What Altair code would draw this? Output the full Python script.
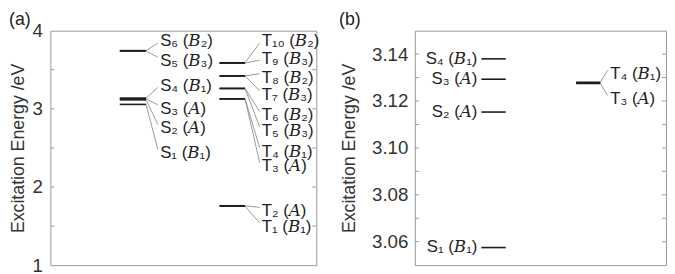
import altair as alt
import pandas as pd

# ---------------- data ----------------
# Panel (a)
a_S_names = ["S₁ (𝐵₁)", "S₂ (𝐴)", "S₃ (𝐴)", "S₄ (𝐵₁)", "S₅ (𝐵₃)", "S₆ (𝐵₂)"]
a_S_E = [3.057, 3.115, 3.129, 3.138, 3.740, 3.745]
a_S_label_y = [2.433, 2.748, 3.0, 3.294, 3.609, 3.861]

a_T_names = ["T₁ (𝐵₁)", "T₂ (𝐴)", "T₃ (𝐴)", "T₄ (𝐵₁)", "T₅ (𝐵₃)",
             "T₆ (𝐵₂)", "T₇ (𝐵₃)", "T₈ (𝐵₂)", "T₉ (𝐵₃)", "T₁₀ (𝐵₂)"]
a_T_E = [1.755, 1.760, 3.127, 3.128, 3.260, 3.262, 3.420, 3.422, 3.585, 3.590]
a_T_label_y = [1.49, 1.69, 2.264, 2.453, 2.718, 2.916, 3.181, 3.399, 3.643, 3.861]

a_ticks = [1.5, 2.0, 2.5, 3.0, 3.5]
a_tick_labels = [1, 2, 3, 4]

# Panel (b)
b_S_names = ["S₁ (𝐵₁)", "S₂ (𝐴)", "S₃ (𝐴)", "S₄ (𝐵₁)"]
b_S_E = [3.0575, 3.1153, 3.1293, 3.1380]

b_T_names = ["T₃ (𝐴)", "T₄ (𝐵₁)"]
b_T_E = [3.1275, 3.1280]
b_T_label_y = [3.1209, 3.1316]

b_ticks = [3.06, 3.07, 3.08, 3.09, 3.10, 3.11, 3.12, 3.13, 3.14]
b_tick_labels = [3.06, 3.08, 3.10, 3.12, 3.14]

FONT = "Liberation Sans"
LFONT = "Liberation Sans, DejaVu Serif, DejaVu Sans"
LEVEL_COLOR = "#1c1c1c"
CONN_COLOR = "#808080"
TEXT_COLOR = "#222222"
LABEL_SIZE = 17


def levels_layer(E, x0, x1, xs, ys, yax):
    df = pd.DataFrame({"E": E, "x0": [x0] * len(E), "x1": [x1] * len(E)})
    return alt.Chart(df).mark_rule(color=LEVEL_COLOR, strokeWidth=1.6).encode(
        x=alt.X("x0:Q", scale=xs, axis=None),
        x2="x1:Q",
        y=alt.Y("E:Q", scale=ys, axis=yax),
    )


def conn_layer(E, ends, xa, xb, xs, ys, yax):
    df = pd.DataFrame({"E": E, "Y2": ends, "x0": [xa] * len(E), "x1": [xb] * len(E)})
    return alt.Chart(df).mark_rule(color=CONN_COLOR, strokeWidth=0.8).encode(
        x=alt.X("x0:Q", scale=xs, axis=None),
        x2="x1:Q",
        y=alt.Y("E:Q", scale=ys, axis=yax),
        y2="Y2:Q",
    )


def label_layer(names, ly, xpos, align, xs, ys, yax):
    df = pd.DataFrame({"t": names, "E": ly, "x0": [xpos] * len(names)})
    return alt.Chart(df).mark_text(
        align=align, baseline="middle", font=LFONT, fontSize=LABEL_SIZE, color=TEXT_COLOR
    ).encode(
        x=alt.X("x0:Q", scale=xs, axis=None),
        y=alt.Y("E:Q", scale=ys, axis=yax),
        text="t:N",
    )


def tick_layer(ticks, length, xs, ys, yax):
    rows = []
    for t in ticks:
        rows.append({"E": t, "x0": 0.0, "x1": length})
        rows.append({"E": t, "x0": 1.0 - length, "x1": 1.0})
    df = pd.DataFrame(rows)
    return alt.Chart(df).mark_rule(color="#999999", strokeWidth=1).encode(
        x=alt.X("x0:Q", scale=xs, axis=None),
        x2="x1:Q",
        y=alt.Y("E:Q", scale=ys, axis=yax),
    )


def tag_layer(text, xv, yv):
    df = pd.DataFrame({"t": [text]})
    return alt.Chart(df).mark_text(
        align="left", baseline="middle", font=FONT, fontSize=18, color=TEXT_COLOR
    ).encode(x=alt.value(xv), y=alt.value(yv), text="t:N")


def make_axis(values, fmt, title_pad, label_pad):
    return alt.Axis(
        values=values, format=fmt, ticks=False, domain=False, grid=False,
        labelFont=FONT, labelFontSize=19, labelColor="#333333", labelPadding=label_pad,
        title="Excitation Energy /eV", titleFont=FONT, titleFontSize=18,
        titleFontWeight="normal", titleColor="#333333", titlePadding=title_pad,
    )


# ---------------- panel (a) ----------------
xs_a = alt.Scale(domain=[0, 1], nice=False, zero=False)
ys_a = alt.Scale(domain=[1, 4], nice=False, zero=False)
yax_a = make_axis(a_tick_labels, "d", 5, 8)

# connector end points: slightly towards the level from the label centre
a_S_ends = [ly + (0.05 if ly < e else -0.02) for ly, e in zip(a_S_label_y, a_S_E)]
a_T_ends = [ly + (0.05 if ly < e else -0.02) for ly, e in zip(a_T_label_y, a_T_E)]

panel_a = alt.layer(
    tick_layer(a_ticks, 0.015, xs_a, ys_a, yax_a),
    levels_layer(a_S_E, 0.261, 0.360, xs_a, ys_a, yax_a),
    levels_layer(a_T_E, 0.636, 0.732, xs_a, ys_a, yax_a),
    conn_layer(a_S_E, a_S_ends, 0.360, 0.404, xs_a, ys_a, yax_a),
    conn_layer(a_T_E, a_T_ends, 0.732, 0.787, xs_a, ys_a, yax_a),
    label_layer(a_S_names, a_S_label_y, 0.413, "left", xs_a, ys_a, yax_a),
    label_layer(a_T_names, a_T_label_y, 0.795, "left", xs_a, ys_a, yax_a),
    tag_layer("(a)", -42, -11),
).properties(width=270, height=238)

# ---------------- panel (b) ----------------
xs_b = alt.Scale(domain=[0, 1], nice=False, zero=False)
ys_b = alt.Scale(domain=[3.05, 3.15], nice=False, zero=False)
yax_b = make_axis(b_tick_labels, ".2f", 13, 7)

b_T_ends = [ly + 0.0015 for ly in b_T_label_y]

panel_b = alt.layer(
    tick_layer(b_ticks, 0.016, xs_b, ys_b, yax_b),
    levels_layer(b_S_E, 0.265, 0.362, xs_b, ys_b, yax_b),
    levels_layer(b_T_E, 0.642, 0.739, xs_b, ys_b, yax_b),
    conn_layer(b_T_E, b_T_ends, 0.739, 0.767, xs_b, ys_b, yax_b),
    label_layer(b_S_names, b_S_E, 0.249, "right", xs_b, ys_b, yax_b),
    label_layer(b_T_names, b_T_label_y, 0.778, "left", xs_b, ys_b, yax_b),
    tag_layer("(b)", -77, -11),
).properties(width=255, height=238)

chart = alt.hconcat(panel_a, panel_b, spacing=18).properties(
    padding={"left": 0, "top": 0, "right": 0, "bottom": 0}
).configure_view(stroke="#999999", strokeWidth=1)

chart.save("out.html", embed_options={"renderer": "svg", "actions": False})
